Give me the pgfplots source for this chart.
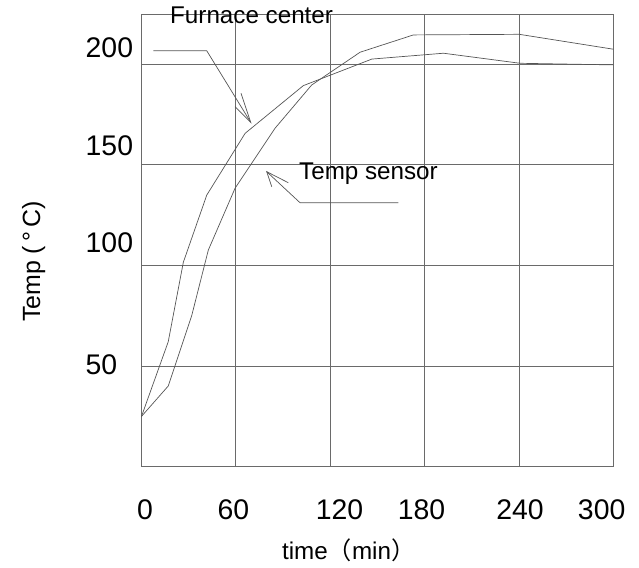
\documentclass[border=0pt]{standalone}
\usepackage{fontspec}
\setmainfont{Liberation Sans}
\newfontfamily\cjk{Noto Sans CJK SC}
\usepackage{pgfplots}
\pgfplotsset{compat=1.18}
\definecolor{gridc}{HTML}{6A6A6A}
\definecolor{curvec}{HTML}{555555}
\begin{document}
\begin{tikzpicture}
\path[use as bounding box] (0bp,0bp) rectangle (639bp,568bp);
\begin{axis}[
  at={(141.5bp,101.3bp)}, anchor=south west,
  scale only axis, width=471.8bp, height=452.7bp,
  xmin=0, xmax=300, ymin=0, ymax=225,
  axis line style={draw=gridc, line width=0.8pt},
  major tick length=0pt,
  /pgf/number format/assume math mode=true,
  tick label style={font=\fontsize{28.5}{30}\selectfont, inner sep=0pt},
  xtick={2.2,58.4,125.9,178.1,240.7,292.6},
  xticklabels={0,60,120,180,240,300},
  ytick={50.9,111.4,159.5,208.2},
  yticklabels={50,100,150,200},
  xticklabel style={anchor=base, yshift=-52.3bp},
  yticklabel style={anchor=west, xshift=-56bp},
  extra x ticks={60,120,180,240},
  extra x tick labels={},
  extra y ticks={50,100,150,200},
  extra y tick labels={},
  extra tick style={grid=major, major grid style={draw=gridc, line width=0.8pt}},
  xlabel={time{\cjk （}min{\cjk ）}},
  xlabel style={at={(axis description cs:0.2975,-0.205)}, anchor=base west, inner sep=0pt, font=\fontsize{24.3}{26}\selectfont},
  ylabel={Temp (\,°\,C)},
  ylabel style={at={(axis description cs:-0.2151,0.4533)}, anchor=base, rotate=0, inner sep=0pt, font=\fontsize{25}{27}\selectfont},
  clip=false,
]
% Furnace center
\addplot[curvec, line width=0.7pt] coordinates {
(0,25) (17.0,62.1) (26.6,101.6) (41.5,135.0) (65.9,165.7) (102.9,189.4) (146.5,202.6) (192.0,205.5) (240.8,200.5) (300,199.7)
};
% Temp sensor
\addplot[curvec, line width=0.7pt] coordinates {
(0,25) (17.0,40.1) (31.9,75.0) (42.5,107.7) (59.5,138.4) (84.9,168.2) (108.2,189.7) (139.0,206.0) (172.9,214.6) (240.2,214.9) (300,207.5)
};
\end{axis}
\node[anchor=base west, inner sep=0pt, font=\fontsize{24.3}{26}\selectfont] at (170bp,544bp) {Furnace center};
\draw[curvec, line width=0.7pt] (153.3bp,517.3bp) -- (206.7bp,517.3bp) -- (250.7bp,445.7bp);
\draw[curvec, line width=0.7pt] (241bp,474.7bp) -- (250.7bp,445.7bp) -- (235bp,461.3bp);
\node[anchor=base west, inner sep=0pt, font=\fontsize{24.3}{26}\selectfont] at (299bp,388bp) {Temp sensor};
\draw[curvec, line width=0.7pt] (398.3bp,365.3bp) -- (300bp,365.3bp) -- (266.7bp,396.3bp);
\draw[curvec, line width=0.7pt] (288.3bp,385.3bp) -- (266.7bp,396.3bp) -- (271.7bp,381.3bp);
\end{tikzpicture}
\end{document}
